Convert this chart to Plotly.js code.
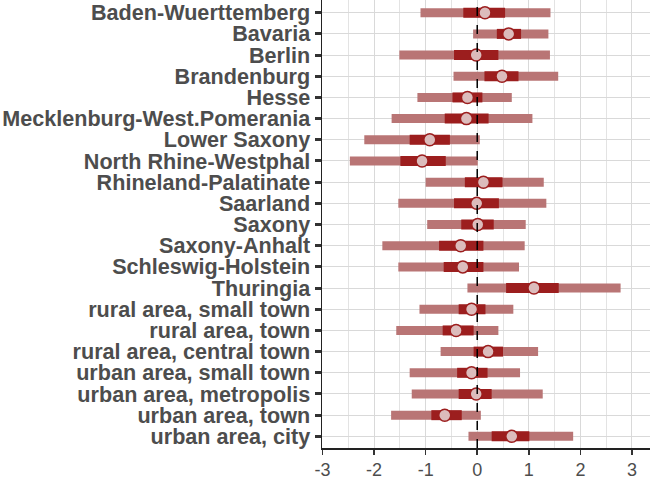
<!DOCTYPE html>
<html><head><meta charset="utf-8">
<script src="https://cdn.plot.ly/plotly-3.0.1.min.js"></script>
<style>html,body{margin:0;padding:0;background:#fff}#chart{width:650px;height:479px}</style>
</head><body><div id="chart"></div>
<script>
const categories = ["Baden-Wuerttemberg","Bavaria","Berlin","Brandenburg","Hesse","Mecklenburg-West.Pomerania","Lower Saxony","North Rhine-Westphal","Rhineland-Palatinate","Saarland","Saxony","Saxony-Anhalt","Schleswig-Holstein","Thuringia","rural area, small town","rural area, town","rural area, central town","urban area, small town","urban area, metropolis","urban area, town","urban area, city"];
const estimate = [0.15,0.61,-0.02,0.48,-0.19,-0.21,-0.92,-1.07,0.12,-0.01,0.01,-0.32,-0.28,1.10,-0.11,-0.41,0.21,-0.11,-0.02,-0.63,0.67];
const innerLow  = [-0.27,0.38,-0.45,0.14,-0.48,-0.63,-1.31,-1.49,-0.24,-0.45,-0.31,-0.74,-0.65,0.56,-0.36,-0.67,-0.07,-0.39,-0.36,-0.89,0.28];
const innerHigh = [0.54,0.85,0.41,0.80,0.10,0.22,-0.53,-0.61,0.49,0.42,0.32,0.12,0.12,1.58,0.16,-0.07,0.50,0.20,0.28,-0.30,1.01];
const outerLow  = [-1.10,-0.08,-1.51,-0.46,-1.16,-1.66,-2.19,-2.47,-1.00,-1.53,-0.97,-1.84,-1.53,-0.19,-1.12,-1.57,-0.71,-1.31,-1.27,-1.67,-0.17];
const outerHigh = [1.42,1.38,1.41,1.57,0.67,1.07,0.05,0.01,1.29,1.34,0.94,0.92,0.81,2.78,0.70,0.41,1.18,0.83,1.27,0.07,1.86];
const xTicks = [-3,-2,-1,0,1,2,3];

function segs(lo, hi) {
  const x = [], y = [];
  categories.forEach((c, i) => { x.push(lo[i], hi[i], null); y.push(c, c, null); });
  return {x, y};
}
const o = segs(outerLow, outerHigh), n = segs(innerLow, innerHigh);
const data = [
  {type:'scatter', mode:'lines', x:o.x, y:o.y, line:{color:'#b97575', width:9}, hoverinfo:'skip', connectgaps:false},
  {type:'scatter', mode:'lines', x:n.x, y:n.y, line:{color:'#9c1e1e', width:10}, hoverinfo:'skip', connectgaps:false},
  {type:'scatter', mode:'markers', x:estimate, y:categories,
   marker:{size:12, color:'#dcbcbc', line:{color:'#9c1e1e', width:1.5}}}
];
const layout = {
  width:650, height:479, showlegend:false,
  margin:{l:322, r:0, t:0, b:31},
  paper_bgcolor:'#fff', plot_bgcolor:'#fff',
  xaxis:{range:[-3.01,3.35], tickmode:'array', tickvals:xTicks, ticktext:xTicks.map(String),
    showgrid:true, gridcolor:'#d9d9d9', gridwidth:1,
    minor:{dtick:0.5, tick0:0, showgrid:true, gridcolor:'#e3e3e3', gridwidth:1, ticks:''},
    showline:true, linecolor:'#222', linewidth:1.5, zeroline:false,
    ticks:'outside', ticklen:5, tickwidth:1.5, tickcolor:'#333',
    tickfont:{family:'Liberation Sans, Arial, sans-serif', size:18, color:'#4d4d4d'}},
  yaxis:{type:'category', categoryorder:'array', categoryarray:categories,
    tickmode:'array', tickvals:categories, ticktext:categories,
    range:[20.55,-0.6], showgrid:true, gridcolor:'#d9d9d9', gridwidth:1,
    showline:true, linecolor:'#222', linewidth:1.5, zeroline:false,
    ticks:'outside', ticklen:6, tickwidth:3, tickcolor:'#333',
    tickfont:{family:'Liberation Sans, Arial, sans-serif', size:21.6, color:'#4d4d4d', weight:'bold'}},
  shapes:[{type:'line', xref:'x', yref:'paper', x0:0, x1:0, y0:0, y1:1, layer:'above',
    line:{color:'#000', width:1.5, dash:'dash'}}]
};
Plotly.newPlot('chart', data, layout, {displayModeBar:false, staticPlot:true});
</script></body></html>
